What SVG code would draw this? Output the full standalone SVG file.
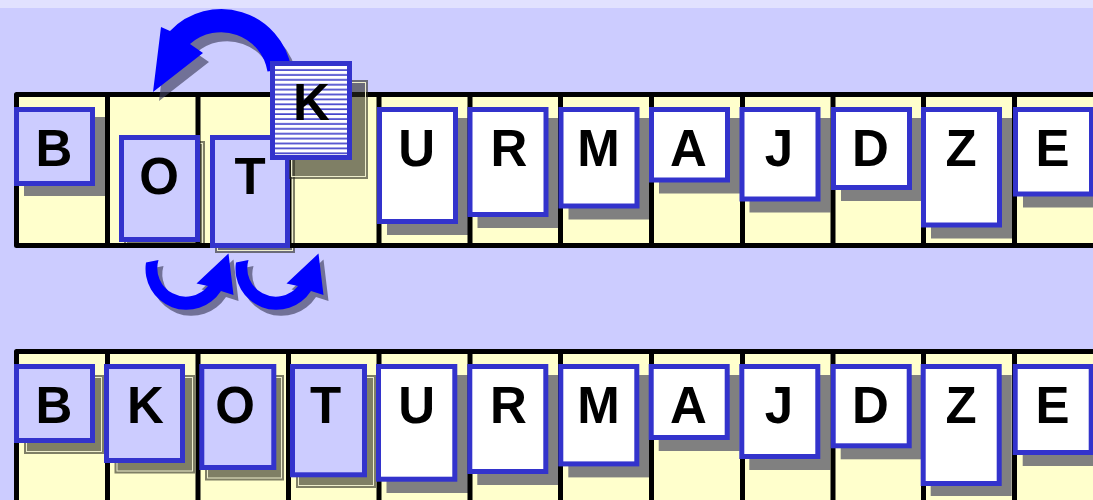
<svg xmlns="http://www.w3.org/2000/svg" width="1093" height="500" viewBox="0 0 1093 500">
<defs>
<style>
.cell{fill:#FFFFCC}
.frame{fill:none;stroke:#000;stroke-width:5;stroke-linejoin:round}
.card{stroke:#3333CC;stroke-width:5}
.lt{fill:#CCCCFF}
.wt{fill:#FFFFFF}
.sh{fill:#808080}
.shc{fill:#2A2A20;fill-opacity:0.6}
.shl{fill:none;stroke:#EEEECC;stroke-width:1}
.ltr{font-family:"Liberation Sans",Arial,sans-serif;font-weight:bold;font-size:51px;text-anchor:middle;fill:#000}
.arr{fill:#0000FF}
.ash{fill:#404060;fill-opacity:0.65}
</style>
<pattern id="stripes" x="0" y="66" width="10" height="4.9" patternUnits="userSpaceOnUse">
<rect width="10" height="4.9" fill="#FFFFFF"/>
<rect y="3.2" width="10" height="1.7" fill="#4444CC"/>
</pattern>
</defs>

<rect x="0" y="0" width="1093" height="500" fill="#CCCCFF"/>
<rect x="0" y="0" width="1093" height="8" fill="#E1E1FF"/>

<g id="cells">
<rect class="cell" x="16.5" y="94.5" width="1080" height="151"/>
<rect class="cell" x="16.5" y="351.5" width="1080" height="160"/>
</g>

<g id="shadows">
<rect class="sh" x="24" y="117" width="81" height="79"/>
<rect class="shc" x="124" y="141" width="81" height="107"/>
<rect class="shl" x="126.5" y="143.5" width="76" height="102"/>
<rect class="shc" x="215" y="140" width="80" height="113"/>
<rect class="shl" x="217.5" y="142.5" width="75" height="108"/>
<rect class="sh" x="387" y="118" width="81" height="117"/>
<rect class="sh" x="477.5" y="118" width="81" height="110"/>
<rect class="sh" x="568.5" y="118" width="81" height="101.5"/>
<rect class="sh" x="659" y="118" width="81" height="75.5"/>
<rect class="sh" x="749.5" y="118" width="81" height="94.5"/>
<rect class="sh" x="841" y="118" width="81" height="83"/>
<rect class="sh" x="931" y="118" width="81" height="120.5"/>
<rect class="sh" x="1023" y="118" width="81" height="89.5"/>

<rect class="shc" x="24" y="375" width="80" height="79"/>
<rect class="shl" x="26.5" y="377.5" width="75" height="74"/>
<rect class="shc" x="114.5" y="375" width="80.5" height="98.5"/>
<rect class="shl" x="117" y="377.5" width="75.5" height="93.5"/>
<rect class="shc" x="205" y="375" width="79" height="105.5"/>
<rect class="shl" x="207.5" y="377.5" width="74" height="100.5"/>
<rect class="shc" x="296" y="375" width="80" height="113"/>
<rect class="shl" x="298.5" y="377.5" width="75" height="108"/>
<rect class="sh" x="386.5" y="375" width="82" height="118"/>
<rect class="sh" x="477.3" y="375" width="81" height="110"/>
<rect class="sh" x="568.3" y="375" width="81" height="102.4"/>
<rect class="sh" x="658.7" y="375" width="81" height="76"/>
<rect class="sh" x="749.3" y="375" width="81" height="95"/>
<rect class="sh" x="840.7" y="375" width="81" height="84.3"/>
<rect class="sh" x="930.7" y="375" width="81" height="121"/>
<rect class="sh" x="1022.7" y="375" width="81" height="91"/>
</g>

<g id="frame">
<path class="frame" d="M1096,94.5 H16.5 V245.5 H1096 M107.5,94.5 V245.5 M198,94.5 V245.5 M288.5,94.5 V245.5 M379,94.5 V245.5 M470,94.5 V245.5 M560.5,94.5 V245.5 M651.5,94.5 V245.5 M742.5,94.5 V245.5 M833,94.5 V245.5 M923.5,94.5 V245.5 M1014.5,94.5 V245.5"/>
<path class="frame" d="M1096,351.5 H16.5 V505 M107.5,351.5 V505 M198,351.5 V505 M288.5,351.5 V505 M379,351.5 V505 M470,351.5 V505 M560.5,351.5 V505 M651.5,351.5 V505 M742.5,351.5 V505 M833,351.5 V505 M923.5,351.5 V505 M1014.5,351.5 V505"/>
</g>

<g id="top-B"><rect class="card lt" x="16.5" y="109.5" width="76" height="74"/><text class="ltr" x="54" y="165.5">B</text></g>
<g id="top-O"><rect class="card lt" x="121.5" y="137.5" width="76" height="102"/><text class="ltr" x="159" y="193.5">O</text></g>
<g id="top-T"><rect class="card lt" x="212.5" y="137.5" width="75" height="108"/><text class="ltr" x="250" y="193.5">T</text></g>
<g id="top-U"><rect class="card wt" x="379.5" y="109.5" width="76" height="112"/><text class="ltr" x="416.7" y="165.5">U</text></g>
<g id="top-R"><rect class="card wt" x="470" y="109.5" width="76" height="105"/><text class="ltr" x="508.8" y="165.5">R</text></g>
<g id="top-M"><rect class="card wt" x="561" y="109.5" width="76" height="96.5"/><text class="ltr" x="598.5" y="165.5">M</text></g>
<g id="top-A"><rect class="card wt" x="651.5" y="109.5" width="76" height="70.5"/><text class="ltr" x="688.5" y="165.5">A</text></g>
<g id="top-J"><rect class="card wt" x="742" y="109.5" width="76" height="89.5"/><text class="ltr" x="779" y="165.5">J</text></g>
<g id="top-D"><rect class="card wt" x="833.5" y="109.5" width="76" height="78"/><text class="ltr" x="870.5" y="165.5">D</text></g>
<g id="top-Z"><rect class="card wt" x="923.5" y="109.5" width="76" height="115.5"/><text class="ltr" x="961" y="165.5">Z</text></g>
<g id="top-E"><rect class="card wt" x="1015.5" y="109.5" width="76" height="84.5"/><text class="ltr" x="1052.5" y="165.5">E</text></g>

<g id="bottom-B"><rect class="card lt" x="16.5" y="366.5" width="76" height="74"/><text class="ltr" x="54" y="422.5">B</text></g>
<g id="bottom-K"><rect class="card lt" x="106.5" y="366.5" width="76" height="94"/><text class="ltr" x="145.5" y="422.5">K</text></g>
<g id="bottom-O"><rect class="card lt" x="201.8" y="366.5" width="72" height="101"/><text class="ltr" x="235" y="422.5">O</text></g>
<g id="bottom-T"><rect class="card lt" x="292.5" y="366.5" width="72" height="108.3"/><text class="ltr" x="325.5" y="422.5">T</text></g>
<g id="bottom-U"><rect class="card wt" x="378.5" y="366.5" width="76.3" height="112.7"/><text class="ltr" x="416.7" y="422.5">U</text></g>
<g id="bottom-R"><rect class="card wt" x="469.8" y="366.5" width="76" height="105"/><text class="ltr" x="508.5" y="422.5">R</text></g>
<g id="bottom-M"><rect class="card wt" x="560.8" y="366.5" width="76" height="97.4"/><text class="ltr" x="598.5" y="422.5">M</text></g>
<g id="bottom-A"><rect class="card wt" x="651.2" y="366.5" width="76" height="71"/><text class="ltr" x="688.5" y="422.5">A</text></g>
<g id="bottom-J"><rect class="card wt" x="741.8" y="366.5" width="76" height="90"/><text class="ltr" x="779" y="422.5">J</text></g>
<g id="bottom-D"><rect class="card wt" x="833.2" y="366.5" width="76" height="79.3"/><text class="ltr" x="870.5" y="422.5">D</text></g>
<g id="bottom-Z"><rect class="card wt" x="923.2" y="366.5" width="76" height="117"/><text class="ltr" x="961" y="422.5">Z</text></g>
<g id="bottom-E"><rect class="card wt" x="1015.2" y="366.5" width="76" height="86"/><text class="ltr" x="1052.5" y="422.5">E</text></g>

<g id="connectors">
<path class="ash" transform="translate(6,9)" d="M291.3,68.1 A71,71 0 0 0 170,31 L161,27 L153,92 L203,53 L190,44 A47,47 0 0 1 267.5,71.5 Z"/>
<path class="arr" d="M291.3,68.1 A71,71 0 0 0 170,31 L161,27 L153,92 L203,53 L190,44 A47,47 0 0 1 267.5,71.5 Z"/>
<path class="ash" transform="translate(5,6)" d="M146,262.5 A41,41 0 0 0 221,291 L233.5,295 L228.5,253.5 L196.5,283.5 L208,286 A28.5,28.5 0 0 1 158.5,260 Z"/>
<path class="arr" d="M146,262.5 A41,41 0 0 0 221,291 L233.5,295 L228.5,253.5 L196.5,283.5 L208,286 A28.5,28.5 0 0 1 158.5,260 Z"/>
<path class="ash" transform="translate(95,6)" d="M146,262.5 A41,41 0 0 0 221,291 L233.5,295 L228.5,253.5 L196.5,283.5 L208,286 A28.5,28.5 0 0 1 158.5,260 Z"/>
<path class="arr" transform="translate(90,0)" d="M146,262.5 A41,41 0 0 0 221,291 L233.5,295 L228.5,253.5 L196.5,283.5 L208,286 A28.5,28.5 0 0 1 158.5,260 Z"/>
</g>

<g id="top-K">
<rect class="shc" x="289" y="80" width="79" height="99"/>
<rect class="shl" x="291.5" y="82.5" width="74" height="94"/>
<rect class="card" fill="url(#stripes)" x="272.5" y="63.5" width="77" height="94"/>
<text class="ltr" x="311.5" y="119.5">K</text>
</g>
</svg>
